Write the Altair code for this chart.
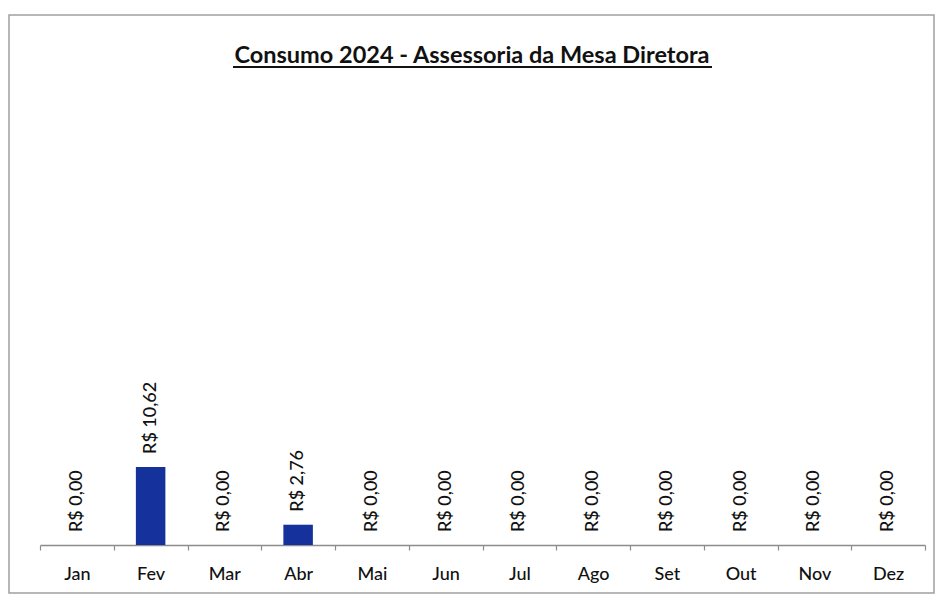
import altair as alt
import pandas as pd

meses = ["Jan", "Fev", "Mar", "Abr", "Mai", "Jun", "Jul", "Ago", "Set", "Out", "Nov", "Dez"]
valores = [0.00, 10.62, 0.00, 2.76, 0.00, 0.00, 0.00, 0.00, 0.00, 0.00, 0.00, 0.00]
rotulos = ["R$ 0,00", "R$ 10,62", "R$ 0,00", "R$ 2,76", "R$ 0,00", "R$ 0,00",
           "R$ 0,00", "R$ 0,00", "R$ 0,00", "R$ 0,00", "R$ 0,00", "R$ 0,00"]
titulo = "Consumo 2024 - Assessoria da Mesa Diretora"

df = pd.DataFrame({"mes": meses, "valor": valores, "rotulo": rotulos})
one = pd.DataFrame({"t": [titulo]})

FONT = "Lato"
W, H = 885, 460

x = alt.X("mes:N", sort=meses, title=None,
          scale=alt.Scale(paddingInner=0, paddingOuter=0),
          axis=alt.Axis(labelAngle=0, tickBand="extent", labelFont=FONT, labelFontSize=18,
                        labelFontWeight=500, labelColor="#111111", labelPadding=15,
                        domainColor="#8c8c8c", domainWidth=1.5, tickColor="#8c8c8c",
                        tickSize=5, tickWidth=1.2))
y = alt.Y("valor:Q", axis=None, scale=alt.Scale(domain=[0, 62.6], nice=False, zero=True))

bars = alt.Chart(df).mark_bar(width={"band": 0.4}, color="#15319b").encode(x=x, y=y)
labels = alt.Chart(df).mark_text(angle=270, align="left", baseline="middle", yOffset=-13,
                                 font=FONT, fontSize=18, fontWeight=500, color="#111111").encode(
    x=alt.X("mes:N", sort=meses), y=y, text="rotulo:N")

border = alt.Chart(one).mark_rect(fill=None, stroke="#a0a0a0", strokeWidth=1.5).encode(
    x=alt.value(-31), x2=alt.value(894), y=alt.value(-70), y2=alt.value(508))
title_txt = alt.Chart(one).mark_text(font=FONT, fontSize=23.5, fontWeight="bold",
                                     baseline="alphabetic", align="center", color="#111111").encode(
    x=alt.value(432), y=alt.value(-22), text="t:N")
underline = alt.Chart(one).mark_rule(color="#111111", strokeWidth=1.8).encode(
    x=alt.value(193), x2=alt.value(672), y=alt.value(-18))

chart = alt.layer(border, bars, labels, title_txt, underline).properties(
    width=W, height=H,
    autosize=alt.AutoSizeParams(type="none"),
    padding={"left": 32, "top": 77, "right": 11, "bottom": 52},
    background="white",
).configure_view(stroke=None)

chart.save("out.html", embed_options={"renderer": "svg", "actions": False})
